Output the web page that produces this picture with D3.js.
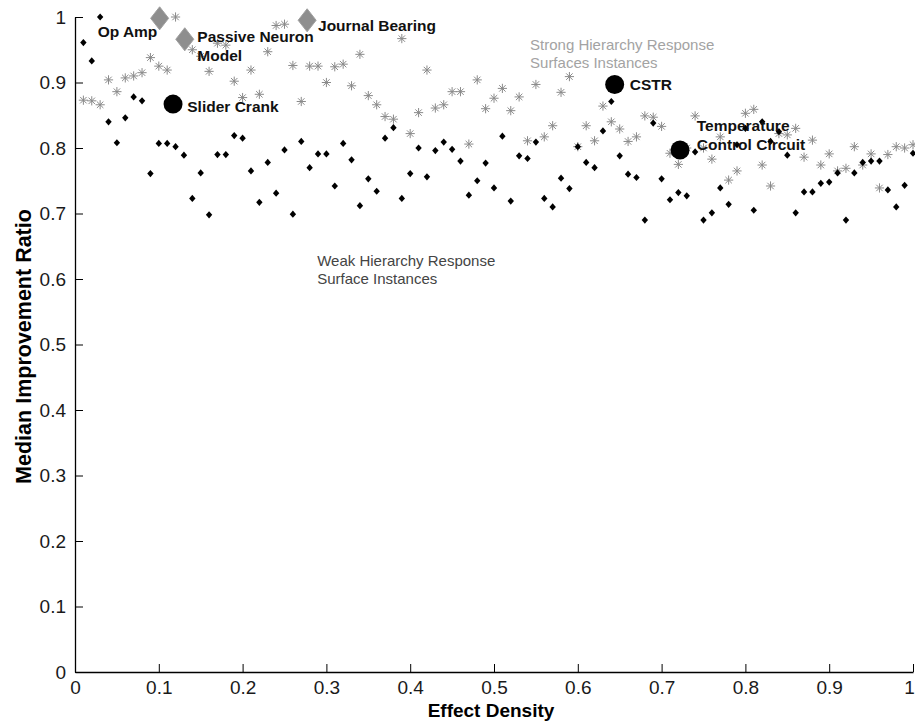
<!DOCTYPE html>
<html>
<head>
<meta charset="utf-8">
<script src="https://cdn.jsdelivr.net/npm/d3@7"></script>
<style>
  body { margin: 0; background: #fff; }
  text { font-family: "Liberation Sans", Arial, sans-serif; }
  .tick line { stroke: #000; }
  .domain { stroke: #000; }
</style>
</head>
<body>
<script>
// effect density of every response surface instance
var density = [
  0.01,0.02,0.03,0.04,0.05,0.06,0.07,0.08,0.09,0.10,
  0.11,0.12,0.13,0.14,0.15,0.16,0.17,0.18,0.19,0.20,
  0.21,0.22,0.23,0.24,0.25,0.26,0.27,0.28,0.29,0.30,
  0.31,0.32,0.33,0.34,0.35,0.36,0.37,0.38,0.39,0.40,
  0.41,0.42,0.43,0.44,0.45,0.46,0.47,0.48,0.49,0.50,
  0.51,0.52,0.53,0.54,0.55,0.56,0.57,0.58,0.59,0.60,
  0.61,0.62,0.63,0.64,0.65,0.66,0.67,0.68,0.69,0.70,
  0.71,0.72,0.73,0.74,0.75,0.76,0.77,0.78,0.79,0.80,
  0.81,0.82,0.83,0.84,0.85,0.86,0.87,0.88,0.89,0.90,
  0.91,0.92,0.93,0.94,0.95,0.96,0.97,0.98,0.99,1.00
];

// weak hierarchy instances (black dots)
var weakRatio = [
  0.961,0.933,1.000,0.840,0.808,0.846,0.878,0.872,0.761,0.807,
  0.807,0.802,0.789,0.723,0.762,0.698,0.790,0.790,0.819,0.815,
  0.765,0.717,0.778,0.731,0.797,0.699,0.810,0.770,0.791,0.791,
  0.742,0.807,0.782,0.712,0.753,0.734,0.815,0.831,0.723,0.761,
  0.800,0.756,0.796,0.809,0.798,0.780,0.728,0.750,0.777,0.739,
  0.818,0.719,0.788,0.784,0.809,0.723,0.710,0.754,0.738,0.802,
  0.778,0.770,0.826,0.871,0.788,0.760,0.755,0.690,0.838,0.753,
  0.721,0.732,0.727,0.794,0.690,0.701,0.739,0.714,0.805,0.830,
  0.705,0.840,0.810,0.825,0.789,0.701,0.733,0.733,0.746,0.748,
  0.762,0.690,0.762,0.778,0.780,0.780,0.736,0.710,0.743,0.792
];

// strong hierarchy instances (grey asterisks)
var strongRatio = [
  0.873,0.872,0.866,0.904,0.886,0.907,0.910,0.915,0.938,0.925,
  0.919,1.000,0.965,0.950,0.940,0.917,0.960,0.957,0.902,0.877,
  0.919,0.882,0.947,0.987,0.989,0.926,0.871,0.925,0.925,0.900,
  0.924,0.928,0.895,0.943,0.880,0.866,0.848,0.844,0.967,0.822,
  0.854,0.919,0.861,0.866,0.886,0.886,0.806,0.904,0.860,0.876,
  0.891,0.857,0.878,0.811,0.897,0.817,0.834,0.885,0.909,0.802,
  0.834,0.811,0.864,0.840,0.829,0.810,0.817,0.849,0.847,0.833,
  0.792,0.775,0.800,0.849,0.800,0.783,0.817,0.751,0.765,0.853,
  0.859,0.774,0.742,0.822,0.820,0.830,0.786,0.812,0.774,0.791,
  0.765,0.769,0.802,0.774,0.791,0.739,0.790,0.802,0.800,0.805
];

// case studies
var caseNames   = ["Op Amp", "Passive Neuron", "Journal Bearing", "Slider Crank", "CSTR", "Temperature Control Circuit"];
var caseDensity = [0.101, 0.131, 0.277, 0.117, 0.644, 0.722];
var caseRatio   = [0.998, 0.966, 0.995, 0.867, 0.897, 0.797];
var caseType    = ["strong", "strong", "strong", "weak", "weak", "weak"];
var caseLines   = [["Op Amp"], ["Passive Neuron", "Model"], ["Journal Bearing"], ["Slider Crank"], ["CSTR"], ["Temperature", "Control Circuit"]];
var caseLabelX  = [0.027, 0.146, 0.290, 0.134, 0.662, 0.742];
var caseLabelY  = [0.969, 0.962, 0.979, 0.855, 0.889, 0.826];

// group annotations
var noteLines = [["Strong Hierarchy Response", "Surfaces Instances"], ["Weak Hierarchy Response", "Surface Instances"]];
var noteX = [0.543, 0.289];
var noteY = [0.950, 0.620];
var noteColor = ["#a3a3a3", "#444"];

var xTicks = [0, 0.1, 0.2, 0.3, 0.4, 0.5, 0.6, 0.7, 0.8, 0.9, 1];
var xTickLabels = ["0", "0.1", "0.2", "0.3", "0.4", "0.5", "0.6", "0.7", "0.8", "0.9", "1"];
var yTicks = [0, 0.1, 0.2, 0.3, 0.4, 0.5, 0.6, 0.7, 0.8, 0.9, 1];
var yTickLabels = ["0", "0.1", "0.2", "0.3", "0.4", "0.5", "0.6", "0.7", "0.8", "0.9", "1"];

var width = 915,
    height = 725,
    margin = {top: 17, right: 2, bottom: 53, left: 75};

var svg = d3.select("body").append("svg").attr("width", width).attr("height", height);

var x = d3.scaleLinear().domain([0, 1]).range([margin.left, width - margin.right]);
var y = d3.scaleLinear().domain([0, 1]).range([height - margin.bottom, margin.top]);

// axes, ticks pointing inward like matlab
svg.append("g")
    .attr("transform", "translate(0," + y(0) + ")")
    .call(d3.axisBottom(x).tickValues(xTicks).tickFormat(function(d, i){ return xTickLabels[i]; })
      .tickSizeInner(-8).tickSizeOuter(0).tickPadding(9))
    .call(function(g){
      g.selectAll("text").attr("font-size", 19).attr("fill", "#1a1a1a").attr("font-family", null);
      // keep the last label inside the page
      g.selectAll("text").filter(function(d){ return d == 1; }).attr("dx", -4);
    });

svg.append("g")
    .attr("transform", "translate(" + x(0) + ",0)")
    .call(d3.axisLeft(y).tickValues(yTicks).tickFormat(function(d, i){ return yTickLabels[i]; })
      .tickSizeInner(-8).tickSizeOuter(0).tickPadding(9))
    .call(function(g){ g.selectAll("text").attr("font-size", 19).attr("fill", "#1a1a1a").attr("font-family", null); });

svg.selectAll(".domain").attr("stroke-width", 1.3);

// axis titles
svg.append("text")
    .attr("x", (x(0) + x(1)) / 2 - 3)
    .attr("y", 717)
    .attr("text-anchor", "middle")
    .attr("font-size", 19)
    .attr("font-weight", "bold")
    .text("Effect Density");

svg.append("text")
    .attr("transform", "translate(31," + (y(0.5) + 2) + ") rotate(-90)")
    .attr("text-anchor", "middle")
    .attr("font-size", 21.5)
    .attr("font-weight", "bold")
    .text("Median Improvement Ratio");

// asterisks
var r = 4.6, a = r * 0.7;
var asterisk = "M" + (-r) + ",0H" + r + "M0," + (-r) + "V" + r +
  "M" + (-a) + "," + (-a) + "L" + a + "," + a + "M" + (-a) + "," + a + "L" + a + "," + (-a);

svg.append("g").selectAll("path")
    .data(density)
  .enter().append("path")
    .attr("d", asterisk)
    .attr("transform", function(d, i){ return "translate(" + x(d) + "," + y(strongRatio[i]) + ")"; })
    .attr("fill", "none")
    .attr("stroke", "#8a8a8a")
    .attr("stroke-width", 1);

// small black diamonds
svg.append("g").selectAll("path")
    .data(density)
  .enter().append("path")
    .attr("d", "M0,-3.6L3.2,0L0,3.6L-3.2,0Z")
    .attr("transform", function(d, i){ return "translate(" + x(d) + "," + y(weakRatio[i]) + ")"; })
    .attr("fill", "#000");

// case study markers
var cases = svg.append("g").selectAll("g")
    .data(caseNames)
  .enter().append("g")
    .attr("transform", function(d, i){ return "translate(" + x(caseDensity[i]) + "," + y(caseRatio[i]) + ")"; });

cases.filter(function(d, i){ return caseType[i] == "strong"; })
  .append("path")
    .attr("d", "M0,-11.5L9,0L0,11.5L-9,0Z")
    .attr("fill", "#8e8e8e")
    .attr("stroke", "#a0a0a0")
    .attr("stroke-width", 1);

cases.filter(function(d, i){ return caseType[i] == "weak"; })
  .append("circle")
    .attr("r", 9.5)
    .attr("fill", "#000");

// case study labels
caseLines.forEach(function(lines, i){
  var t = svg.append("text")
      .attr("x", x(caseLabelX[i]))
      .attr("y", y(caseLabelY[i]))
      .attr("font-size", 15.5)
      .attr("font-weight", "bold")
      .attr("fill", "#111");
  lines.forEach(function(s, j){
    t.append("tspan").attr("x", x(caseLabelX[i])).attr("dy", j == 0 ? 0 : 19).text(s);
  });
});

// group notes
noteLines.forEach(function(lines, i){
  var t = svg.append("text")
      .attr("x", x(noteX[i]))
      .attr("y", y(noteY[i]))
      .attr("font-size", 15)
      .attr("fill", noteColor[i]);
  lines.forEach(function(s, j){
    t.append("tspan").attr("x", x(noteX[i])).attr("dy", j == 0 ? 0 : 18).text(s);
  });
});
</script>
</body>
</html>
